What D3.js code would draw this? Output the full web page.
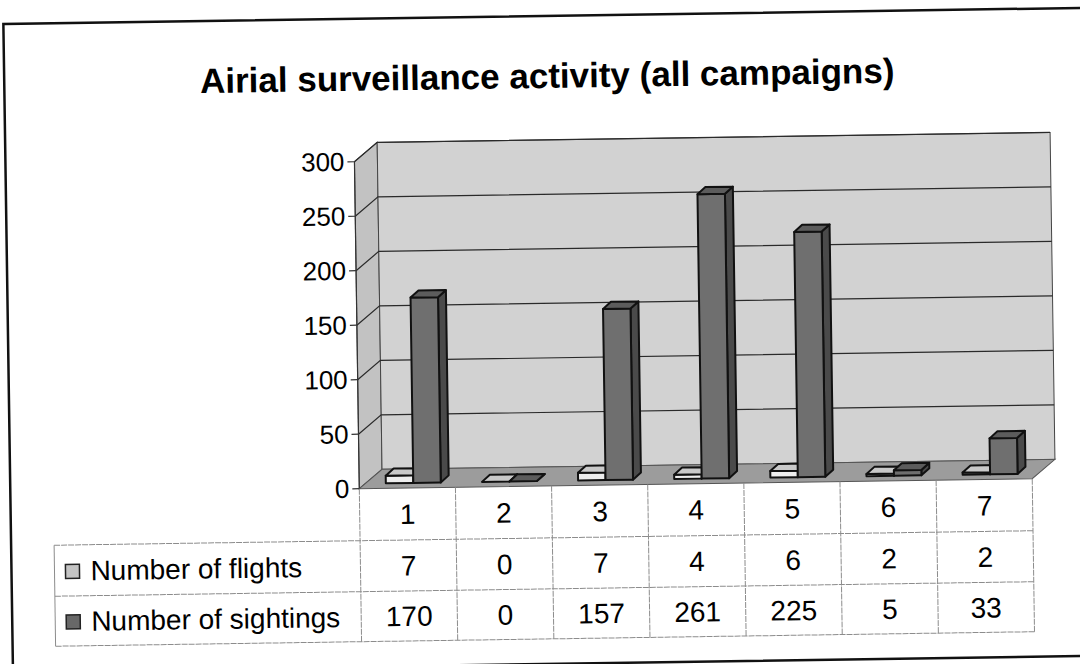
<!DOCTYPE html>
<meta charset="utf-8">
<head>
  <title>Airial surveillance activity</title>
  <script src="https://cdn.jsdelivr.net/npm/d3@7"></script>
  <style>
    body { margin: 0; background: #fff; }
    svg { display: block; font-family: "Liberation Sans", Arial, sans-serif; }
  </style>
</head>
<body>
<svg width="1080" height="664"></svg>
<script>

  var categories = ["1", "2", "3", "4", "5", "6", "7"];
  var flights    = [7, 0, 7, 4, 6, 2, 2];
  var sightings  = [170, 0, 157, 261, 225, 5, 33];
  var yTicks     = [0, 50, 100, 150, 200, 250, 300];
  var seriesNames = ["Number of flights", "Number of sightings"];

  var left = 357, right = 1030, floorY = 486, topY = 159;   // front plane
  var dx = 23, dy = -19;          // depth of the plot box
  var bx = 6, by = -5;            // bar front, relative to front plane
  var bdx = 8, bdy = -7;          // bar depth
  var rows = [486, 538, 589, 639];  // table row edges
  var tableLeft = 51;

  var svg = d3.select("svg");
  var g = svg.append("g").attr("transform", "rotate(-0.85, 540, 332)");

  var x = d3.scaleBand().domain(categories).range([left, right]);
  var xs = d3.scaleBand().domain(seriesNames).range([0, x.bandwidth()]).paddingOuter(0.75);
  var y = d3.scaleLinear().domain([0, 300]).range([floorY, topY]);

  // frame
  g.append("rect")
    .attr("x", 8).attr("y", 16).attr("width", 1100).attr("height", 648)
    .attr("fill", "none").attr("stroke", "#111").attr("stroke-width", 2.5);

  g.append("text")
    .attr("x", 551).attr("y", 88)
    .attr("text-anchor", "middle")
    .attr("font-size", 35).attr("font-weight", "bold")
    .text("Airial surveillance activity (all campaigns)");

  // walls
  function pts(a) { return a.map(function(p) { return p.join(","); }).join(" "); }

  g.append("polygon")
    .attr("points", pts([[left, topY], [left + dx, topY + dy], [left + dx, floorY + dy], [left, floorY]]))
    .attr("fill", "#c2c2c2").attr("stroke", "#444").attr("stroke-width", 1);
  g.append("polygon")
    .attr("points", pts([[left + dx, topY + dy], [right + dx, topY + dy], [right + dx, floorY + dy], [left + dx, floorY + dy]]))
    .attr("fill", "#d2d2d2").attr("stroke", "#444").attr("stroke-width", 1);
  g.append("polygon")
    .attr("points", pts([[left, floorY], [left + dx, floorY + dy], [right + dx, floorY + dy], [right, floorY]]))
    .attr("fill", "#9c9c9c").attr("stroke", "#555").attr("stroke-width", 1);

  // gridlines
  g.selectAll(".grid").data(yTicks.slice(1)).enter()
    .append("polyline")
      .attr("class", "grid")
      .attr("points", function(d) {
        return pts([[left, y(d)], [left + dx, y(d) + dy], [right + dx, y(d) + dy]]);
      })
      .attr("fill", "none").attr("stroke", "#2a2a2a").attr("stroke-width", 1.2);

  // y axis
  g.append("line")
    .attr("x1", left).attr("x2", left).attr("y1", topY).attr("y2", floorY)
    .attr("stroke", "#333").attr("stroke-width", 1.2);
  g.selectAll(".ytick").data(yTicks).enter()
    .append("line")
      .attr("x1", left - 7).attr("x2", left)
      .attr("y1", function(d) { return y(d); }).attr("y2", function(d) { return y(d); })
      .attr("stroke", "#333").attr("stroke-width", 1.2);
  g.selectAll(".ylab").data(yTicks).enter()
    .append("text")
      .attr("x", left - 10)
      .attr("y", function(d) { return y(d) + 9; })
      .attr("text-anchor", "end")
      .attr("font-size", 26)
      .text(function(d) { return d; });

  // bars
  var series = [
    { name: seriesNames[0], values: flights,   front: "#eeeeee", top: "#c9c9c9", side: "#a8a8a8" },
    { name: seriesNames[1], values: sightings, front: "#6f6f6f", top: "#5c5c5c", side: "#4a4a4a" }
  ];

  categories.forEach(function(c, i) {
    series.forEach(function(s) {
      var v = s.values[i];
      var x0 = x(c) + xs(s.name) + bx, x1 = x0 + xs.bandwidth();
      var yt = y(v) + by, yb = y(0) + by;
      var bar = g.append("g");
      bar.append("polygon")
        .attr("points", pts([[x1, yt], [x1 + bdx, yt + bdy], [x1 + bdx, yb + bdy], [x1, yb]]))
        .attr("fill", s.side);
      bar.append("rect")
        .attr("x", x0).attr("y", yt).attr("width", x1 - x0).attr("height", yb - yt)
        .attr("fill", s.front);
      bar.append("polygon")
        .attr("points", pts([[x0, yt], [x1, yt], [x1 + bdx, yt + bdy], [x0 + bdx, yt + bdy]]))
        .attr("fill", s.top);
      bar.selectAll("*").attr("stroke", "#111").attr("stroke-width", 2).attr("stroke-linejoin", "round");
    });
  });

  // data table
  var gridColor = "#8c8c8c";
  g.selectAll(".vline").data(categories.concat(["end"])).enter()
    .append("line")
      .attr("x1", function(d, i) { return left + i * x.bandwidth(); })
      .attr("x2", function(d, i) { return left + i * x.bandwidth(); })
      .attr("y1", rows[0]).attr("y2", rows[3])
      .attr("stroke", gridColor).attr("stroke-width", 1).attr("stroke-dasharray", "6,1");
  [1, 2, 3].forEach(function(r) {
    g.append("line")
      .attr("x1", tableLeft).attr("x2", right)
      .attr("y1", rows[r]).attr("y2", rows[r])
      .attr("stroke", gridColor).attr("stroke-width", 1).attr("stroke-dasharray", "6,1");
  });
  g.append("line")
    .attr("x1", tableLeft).attr("x2", tableLeft).attr("y1", rows[1]).attr("y2", rows[3])
    .attr("stroke", gridColor).attr("stroke-width", 1);

  g.selectAll(".cat").data(categories).enter()
    .append("text")
      .attr("x", function(d) { return x(d) + x.bandwidth() / 2; })
      .attr("y", (rows[0] + rows[1]) / 2 + 10)
      .attr("text-anchor", "middle").attr("font-size", 28)
      .text(function(d) { return d; });

  series.forEach(function(s, r) {
    var cy = (rows[r + 1] + rows[r + 2]) / 2;
    g.append("rect")
      .attr("x", 62).attr("y", cy - 6).attr("width", 14).attr("height", 14)
      .attr("fill", r === 0 ? "#c4c4c4" : "#686868")
      .attr("stroke", "#222").attr("stroke-width", 1.5);
    g.append("text")
      .attr("x", 87).attr("y", cy + 10)
      .attr("font-size", 28)
      .text(s.name);
    g.selectAll(".val" + r).data(s.values).enter()
      .append("text")
        .attr("x", function(d, i) { return x(categories[i]) + x.bandwidth() / 2; })
        .attr("y", cy + 10)
        .attr("text-anchor", "middle").attr("font-size", 28)
        .text(function(d) { return d; });
  });

</script>
</body>
</html>
